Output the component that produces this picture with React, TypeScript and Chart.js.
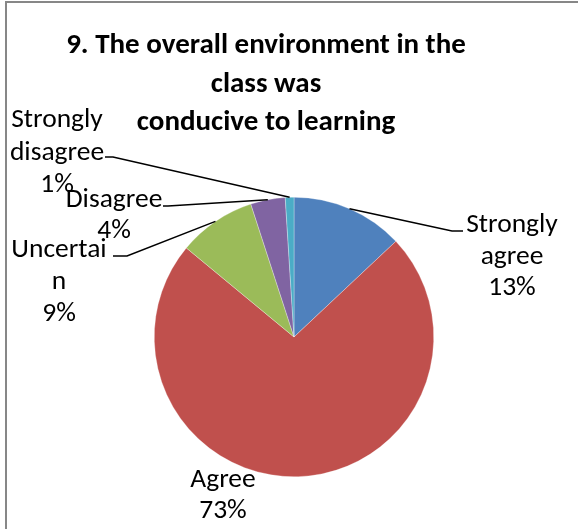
import React, { useEffect, useRef } from "react";
import { Chart, registerables } from "chart.js";

Chart.register(...registerables);

const categories = ["Strongly agree", "Agree", "Uncertain", "Disagree", "Strongly disagree"];
const values = [13, 73, 9, 4, 1];
const percentLabels = ["13%", "73%", "9%", "4%", "1%"];
const colors = ["#4F81BD", "#C0504D", "#9BBB59", "#8064A2", "#4BACC6"];
const titleLines = ["9. The overall environment in the", "class was", "conducive to learning"];

// label text lines (how the source wraps each category label)
const labelLines = [
  ["Strongly", "agree"],
  ["Agree"],
  ["Uncertai", "n"],
  ["Disagree"],
  ["Strongly", "disagree"],
];

const FONT = 'Carlito, Lato, "Noto Sans", sans-serif';

// layout of labels: center x, first baseline, line height, leader elbow (x,y) and end x
const labelLayout = [
  { cx: 512, y0: 232, lh: 31.5, elbow: [452, 231], end: 463 },
  { cx: 223, y0: 487, lh: 31, elbow: null, end: 0 },
  { cx: 59, y0: 257, lh: 32, elbow: [127, 256], end: 113 },
  { cx: 114, y0: 207, lh: 31, elbow: [168, 206], end: 163 },
  { cx: 57, y0: 127, lh: 32.5, elbow: [113, 157], end: 105 },
];

const overlayPlugin = {
  id: "overlay",
  afterDraw(chart: any) {
    const ctx = chart.ctx as CanvasRenderingContext2D;
    ctx.save();
    // border
    ctx.strokeStyle = "#878787";
    ctx.lineWidth = 2;
    ctx.beginPath();
    ctx.moveTo(6, 529);
    ctx.lineTo(6, 2);
    ctx.lineTo(578, 2);
    ctx.stroke();

    // title
    ctx.fillStyle = "#000";
    ctx.textAlign = "center";
    ctx.textBaseline = "alphabetic";
    ctx.font = `bold 29px ${FONT}`;
    const tb = [53, 92, 130];
    titleLines.forEach((t, i) => ctx.fillText(t, 266, tb[i]));

    // leader lines and labels
    const meta = chart.getDatasetMeta(0);
    ctx.font = `27.5px ${FONT}`;
    meta.data.forEach((arc: any, i: number) => {
      const L = labelLayout[i];
      if (L.elbow) {
        const mid = (arc.startAngle + arc.endAngle) / 2;
        const sx = arc.x + Math.cos(mid) * arc.outerRadius;
        const sy = arc.y + Math.sin(mid) * arc.outerRadius;
        ctx.strokeStyle = "#000";
        ctx.lineWidth = 1.5;
        ctx.beginPath();
        ctx.moveTo(sx, sy);
        ctx.lineTo(L.elbow[0], L.elbow[1]);
        ctx.lineTo(L.end, L.elbow[1]);
        ctx.stroke();
      }
      const lines = [...labelLines[i], percentLabels[i]];
      ctx.fillStyle = "#000";
      lines.forEach((t, k) => ctx.fillText(t, L.cx, L.y0 + k * L.lh));
    });
    ctx.restore();
  },
};

export default function App() {
  const ref = useRef<HTMLCanvasElement>(null);
  useEffect(() => {
    const chart = new Chart(ref.current!, {
      type: "pie",
      data: {
        labels: categories,
        datasets: [
          {
            data: values,
            backgroundColor: colors,
            borderColor: "rgba(255,255,255,0.6)",
            borderWidth: 0.5,
            hoverOffset: 0,
          },
        ],
      },
      options: {
        responsive: false,
        animation: false,
        devicePixelRatio: 1,
        layout: { padding: { left: 154, top: 197, right: 144, bottom: 52 } },
        plugins: {
          legend: { display: false },
          title: { display: false },
          tooltip: { enabled: false },
        },
      },
      plugins: [overlayPlugin],
    });
    return () => chart.destroy();
  }, []);
  return (
    <div style={{ position: "fixed", left: 0, top: 0, width: 578, height: 529, background: "#fff" }}>
      <canvas ref={ref} width={578} height={529} style={{ display: "block" }} />
    </div>
  );
}
